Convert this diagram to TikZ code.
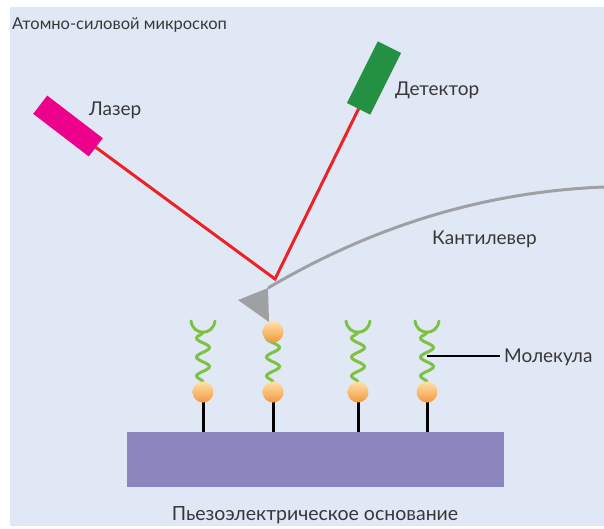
\documentclass[tikz,border=0pt]{standalone}
\usepackage{fontspec}
\setmainfont{Lato}
\usetikzlibrary{decorations.pathmorphing}

\definecolor{bgblue}{RGB}{225,232,245}
\definecolor{lasermag}{RGB}{236,0,140}
\definecolor{detgreen}{RGB}{35,145,65}
\definecolor{beamred}{RGB}{235,35,40}
\definecolor{tipgray}{RGB}{158,160,163}
\definecolor{chaingreen}{RGB}{125,194,66}
\definecolor{basepurple}{RGB}{139,134,190}
\definecolor{beadlight}{RGB}{253,225,170}
\definecolor{beaddark}{RGB}{243,152,60}
\definecolor{textgray}{RGB}{55,55,55}

\begin{document}
\begin{tikzpicture}[x=1pt,y=-1pt,
    txt/.style={text=textgray,font=\fontsize{19}{21}\selectfont,inner sep=0pt},
    box/.style={inner sep=0pt,outer sep=0pt},
    beam/.style={beamred,line width=3pt},
    chain/.style={chaingreen,line width=3pt,line cap=round},
    spring/.style={chain,decorate,decoration={snake,segment length=19pt,amplitude=6.5pt}},
    bead/.style={top color=beadlight,bottom color=beaddark}]
    \useasboundingbox (0,0) rectangle (604,528);
    \fill[white] (0,0) rectangle (604,528);
    \fill[bgblue] (10,7) rectangle (604,526);

    \node[txt,font=\fontsize{16.5}{18}\selectfont,anchor=base west] (title) at (12,29)
        {Атомно-силовой микроскоп};

    % laser, detector and the beam between them
    \node[box,fill=lasermag,minimum width=70pt,minimum height=23pt,rotate=-37.5]
        (laser) at (68,126) {};
    \node[box,fill=detgreen,minimum width=69pt,minimum height=26pt,rotate=63.4]
        (detector) at (374,78) {};
    \coordinate (R) at (275,279);
    \draw[beam] (laser.east) -- (R) -- (detector.west);
    \node[txt,anchor=base west] (laserlbl) at (89,115) {Лазер};
    \node[txt,anchor=base west] (detectorlbl) at (395,95) {Детектор};

    % cantilever with its tip
    \coordinate (T) at (268,288);
    \coordinate (Tend) at (604,187);
    \fill[tipgray] (238,300) -- (T) -- (269,322) -- cycle;
    \draw[tipgray,line width=3pt] (T) .. controls (370,228) and (480,192) .. (Tend);
    \node[txt,anchor=base west] (cantlbl) at (432,244) {Кантилевер};

    % substrate
    \fill[basepurple] (127,432) rectangle (504,487);
    \node[txt,font=\fontsize{19.5}{21}\selectfont,anchor=base] (baselbl) at (315,520)
        {Пьезоэлектрическое основание};

    % molecules
    \coordinate (M1) at (203,392);
    \coordinate (M2) at (273,392);
    \coordinate (M3) at (358,392);
    \coordinate (M4) at (427,392);
    \coordinate (B2) at (273,332);
    \foreach \m in {M1,M2,M3,M4}
        \draw[line width=3pt] (\m) -- ++(0,40);
    \foreach \m in {M1,M3,M4} {
        \draw[spring] (\m) ++(0,-10) -- ++(0,-50);
        \draw[chain,shift={(\m)}] (-12,-71) .. controls (-10,-56) and (10,-56) .. (12,-71);
    }
    \draw[spring] (M2) ++(0,-10) -- (B2);
    \foreach \m in {M1,M2,M3,M4,B2}
        \shade[bead] (\m) circle (10.5);

    \coordinate (Mlbl) at (500,356);
    \draw[line width=1.5pt] (427,356) -- (Mlbl);
    \node[txt,anchor=west] (molecule) at (504,357) {Молекула};
\end{tikzpicture}
\end{document}
